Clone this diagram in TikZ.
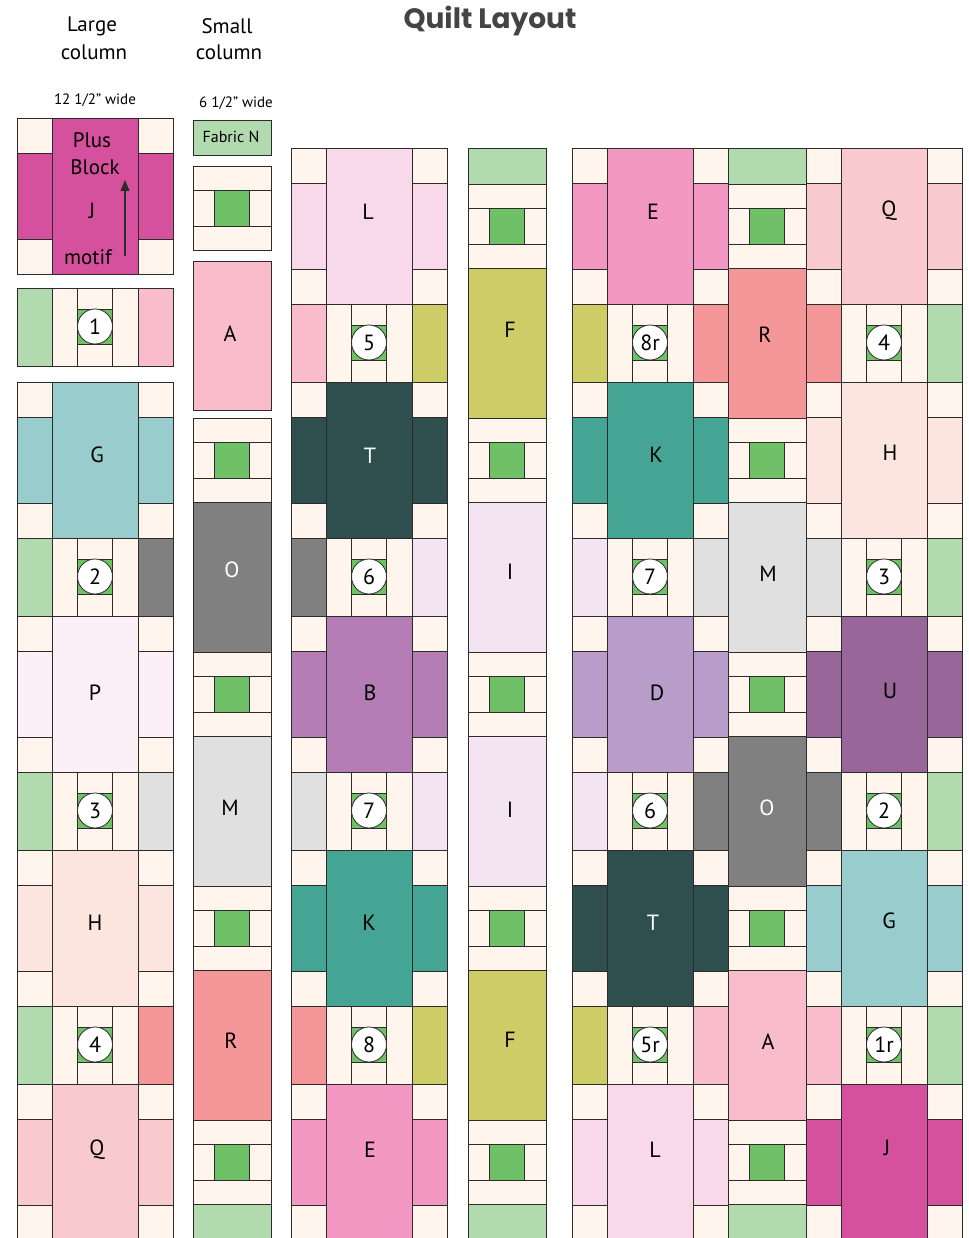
\documentclass[tikz,border=0pt]{standalone}
\usepackage{fontspec}
\setmainfont{PT Sans}
\newfontfamily\titlefont{Poppins}
\usetikzlibrary{arrows.meta}

\definecolor{cream}{HTML}{FFF5EC}
\definecolor{leaf}{HTML}{70C068}
\definecolor{seamgray}{HTML}{2B2B2B}
\definecolor{titlegray}{HTML}{444444}
\definecolor{fabA}{HTML}{F8BCCA}
\definecolor{fabB}{HTML}{B57DB6}
\definecolor{fabD}{HTML}{B89CC9}
\definecolor{fabE}{HTML}{F398C2}
\definecolor{fabF}{HTML}{CECC67}
\definecolor{fabG}{HTML}{99CCCC}
\definecolor{fabH}{HTML}{FCE4DF}
\definecolor{fabI}{HTML}{F4E3F0}
\definecolor{fabJ}{HTML}{D6519D}
\definecolor{fabK}{HTML}{44A594}
\definecolor{fabL}{HTML}{F7D9E9}
\definecolor{fabM}{HTML}{E0E0E0}
\definecolor{fabN}{HTML}{B1DBAF}
\definecolor{fabO}{HTML}{808080}
\definecolor{fabP}{HTML}{FCEFF6}
\definecolor{fabQ}{HTML}{F9CACD}
\definecolor{fabR}{HTML}{F59799}
\definecolor{fabT}{HTML}{2F4F4E}
\definecolor{fabU}{HTML}{996699}

\tikzset{
	seam/.style={draw=seamgray, line width=0.8pt},
	badge/.style={circle, draw=seamgray, line width=0.8pt, fill=white, inner sep=0pt,
		minimum size=35pt, font=\fontsize{22}{22}\selectfont},
	fablabel/.style={inner sep=0pt, font=\fontsize{22}{22}\selectfont},
	darklabel/.style={fablabel, text=white},
	head/.style={inner sep=0pt, font=\fontsize{21}{21}\selectfont},
	widthnote/.style={inner sep=0pt, font=\fontsize{15}{15}\selectfont}
}

% 12" plus block: corners, side bars and the long centre bar
\newcommand{\bigblock}[3]{%
	\draw[seam, fill=cream] (#1,#2) rectangle ++(35,35);
	\draw[seam, fill=cream] (#1+121,#2) rectangle ++(35,35);
	\draw[seam, fill=cream] (#1,#2+121) rectangle ++(35,35);
	\draw[seam, fill=cream] (#1+121,#2+121) rectangle ++(35,35);
	\draw[seam, fill=#3] (#1,#2+35) rectangle ++(35,86);
	\draw[seam, fill=#3] (#1+121,#2+35) rectangle ++(35,86);
	\draw[seam, fill=#3] (#1+35,#2) rectangle ++(86,156);
}

% sashing strip with numbered cornerstone
\newcommand{\stripblock}[6]{%
	\draw[seam, fill=#3] (#1,#2) rectangle ++(35,78);
	\draw[seam, fill=cream] (#1+35,#2) rectangle ++(25.5,78);
	\draw[seam, fill=cream] (#1+95.5,#2) rectangle ++(25.5,78);
	\draw[seam, fill=cream] (#1+60.5,#2) rectangle ++(35,21);
	\draw[seam, fill=cream] (#1+60.5,#2+56) rectangle ++(35,22);
	\draw[seam, fill=leaf] (#1+60.5,#2+21) rectangle ++(35,35);
	\draw[seam, fill=#4] (#1+121,#2) rectangle ++(35,78);
	\node[badge] (#6) at (#1+78,#2+38.5) {#5};
}

% 6" cornerstone block
\newcommand{\smallblock}[2]{%
	\draw[seam, fill=cream] (#1,#2) rectangle ++(78,24);
	\draw[seam, fill=cream] (#1,#2+24) rectangle ++(21,36);
	\draw[seam, fill=leaf] (#1+21,#2+24) rectangle ++(35,36);
	\draw[seam, fill=cream] (#1+56,#2+24) rectangle ++(22,36);
	\draw[seam, fill=cream] (#1,#2+60) rectangle ++(78,24);
}

% plain 6" rectangle
\newcommand{\piece}[4]{%
	\draw[seam, fill=#4] (#1,#2) rectangle ++(78,#3);
}

\begin{document}
\begin{tikzpicture}[x=1pt, y=-1pt]

	\useasboundingbox (0,0) rectangle (968,1238);

	% Headings
	\node[inner sep=0pt, text=titlegray, font=\titlefont\bfseries\fontsize{28}{28}\selectfont] (title) at (490,21) {Quilt Layout};
	\node[head] (largeA) at (92,26) {Large};
	\node[head] (largeB) at (94,52) {column};
	\node[head] (smallA) at (227,26) {Small};
	\node[head] (smallB) at (229,52) {column};
	\node[widthnote] (largew) at (95,100) {12 1/2\textquotedblright\ wide};
	\node[widthnote] (smallw) at (236,103) {6 1/2\textquotedblright\ wide};

	% Large column
	\bigblock{17}{118}{fabJ}
	\stripblock{17}{288}{fabN}{fabA}{1}{c1s1}
	\bigblock{17}{382}{fabG}
	\stripblock{17}{538}{fabN}{fabO}{2}{c1s2}
	\bigblock{17}{616}{fabP}
	\stripblock{17}{772}{fabN}{fabM}{3}{c1s3}
	\bigblock{17}{850}{fabH}
	\stripblock{17}{1006}{fabN}{fabR}{4}{c1s4}
	\bigblock{17}{1084}{fabQ}

	\node[fablabel, font=\fontsize{21}{21}\selectfont] (plus) at (92,140) {Plus};
	\node[fablabel, font=\fontsize{21}{21}\selectfont] (block) at (95,167) {Block};
	\node[fablabel] (c1J) at (92,211) {J};
	\node[fablabel, font=\fontsize{21}{21}\selectfont] (motif) at (88,257) {motif};
	\coordinate (motifA) at (125,256);
	\coordinate (motifB) at (125,180);
	\draw[-{Triangle[length=11pt, width=9pt]}, line width=1.3pt, draw=seamgray, fill=seamgray] (motifA) -- (motifB);
	\node[fablabel] (c1G) at (97,455) {G};
	\node[fablabel] (c1P) at (95,693) {P};
	\node[fablabel] (c1H) at (95,923) {H};
	\node[fablabel] (c1Q) at (97,1150) {Q};

	% Small column
	\draw[seam, fill=fabN] (193,120) rectangle ++(78,35);
	\node[inner sep=0pt, font=\fontsize{16}{16}\selectfont] (fabricN) at (231,137) {Fabric N};
	\smallblock{193}{166}
	\piece{193}{261}{149}{fabA}
	\smallblock{193}{418}
	\piece{193}{502}{150}{fabO}
	\smallblock{193}{652}
	\piece{193}{736}{150}{fabM}
	\smallblock{193}{886}
	\piece{193}{970}{150}{fabR}
	\smallblock{193}{1120}
	\piece{193}{1204}{40}{fabN}
	\node[fablabel] (c2A) at (230,334) {A};
	\node[darklabel] (c2O) at (232,570) {O};
	\node[fablabel] (c2M) at (230,808) {M};
	\node[fablabel] (c2R) at (231,1041) {R};

	% Quilt: large column one
	\bigblock{291}{148}{fabL}
	\stripblock{291}{304}{fabA}{fabF}{5}{c3s5}
	\bigblock{291}{382}{fabT}
	\stripblock{291}{538}{fabO}{fabI}{6}{c3s6}
	\bigblock{291}{616}{fabB}
	\stripblock{291}{772}{fabM}{fabI}{7}{c3s7}
	\bigblock{291}{850}{fabK}
	\stripblock{291}{1006}{fabR}{fabF}{8}{c3s8}
	\bigblock{291}{1084}{fabE}
	\node[fablabel] (c3L) at (368,212) {L};
	\node[darklabel] (c3T) at (370,456) {T};
	\node[fablabel] (c3B) at (370,693) {B};
	\node[fablabel] (c3K) at (369,923) {K};
	\node[fablabel] (c3E) at (370,1150) {E};

	% Quilt: small column one
	\piece{468}{148}{36}{fabN}
	\smallblock{468}{184}
	\piece{468}{268}{150}{fabF}
	\smallblock{468}{418}
	\piece{468}{502}{150}{fabI}
	\smallblock{468}{652}
	\piece{468}{736}{150}{fabI}
	\smallblock{468}{886}
	\piece{468}{970}{150}{fabF}
	\smallblock{468}{1120}
	\piece{468}{1204}{40}{fabN}
	\node[fablabel] (c4F) at (510,330) {F};
	\node[fablabel] (c4I) at (510,572) {I};
	\node[fablabel] (c4Ib) at (510,810) {I};
	\node[fablabel] (c4Fb) at (510,1040) {F};

	% Quilt: large column two
	\bigblock{572}{148}{fabE}
	\stripblock{572}{304}{fabF}{fabR}{8r}{c5s8}
	\bigblock{572}{382}{fabK}
	\stripblock{572}{538}{fabI}{fabM}{7}{c5s7}
	\bigblock{572}{616}{fabD}
	\stripblock{572}{772}{fabI}{fabO}{6}{c5s6}
	\bigblock{572}{850}{fabT}
	\stripblock{572}{1006}{fabF}{fabA}{5r}{c5s5}
	\bigblock{572}{1084}{fabL}
	\node[fablabel] (c5E) at (653,212) {E};
	\node[fablabel] (c5K) at (656,455) {K};
	\node[fablabel] (c5D) at (657,693) {D};
	\node[darklabel] (c5T) at (653,923) {T};
	\node[fablabel] (c5L) at (655,1150) {L};

	% Quilt: small column two
	\piece{728}{148}{36}{fabN}
	\smallblock{728}{184}
	\piece{728}{268}{150}{fabR}
	\smallblock{728}{418}
	\piece{728}{502}{150}{fabM}
	\smallblock{728}{652}
	\piece{728}{736}{150}{fabO}
	\smallblock{728}{886}
	\piece{728}{970}{150}{fabA}
	\smallblock{728}{1120}
	\piece{728}{1204}{40}{fabN}
	\node[fablabel] (c6R) at (765,335) {R};
	\node[fablabel] (c6M) at (768,574) {M};
	\node[darklabel] (c6O) at (767,808) {O};
	\node[fablabel] (c6A) at (768,1042) {A};

	% Quilt: large column three
	\bigblock{806}{148}{fabQ}
	\stripblock{806}{304}{fabR}{fabN}{4}{c7s4}
	\bigblock{806}{382}{fabH}
	\stripblock{806}{538}{fabM}{fabN}{3}{c7s3}
	\bigblock{806}{616}{fabU}
	\stripblock{806}{772}{fabO}{fabN}{2}{c7s2}
	\bigblock{806}{850}{fabG}
	\stripblock{806}{1006}{fabA}{fabN}{1r}{c7s1}
	\bigblock{806}{1084}{fabJ}
	\node[fablabel] (c7Q) at (889,211) {Q};
	\node[fablabel] (c7H) at (890,453) {H};
	\node[fablabel] (c7U) at (890,691) {U};
	\node[fablabel] (c7G) at (889,921) {G};
	\node[fablabel] (c7J) at (887,1148) {J};

\end{tikzpicture}
\end{document}
